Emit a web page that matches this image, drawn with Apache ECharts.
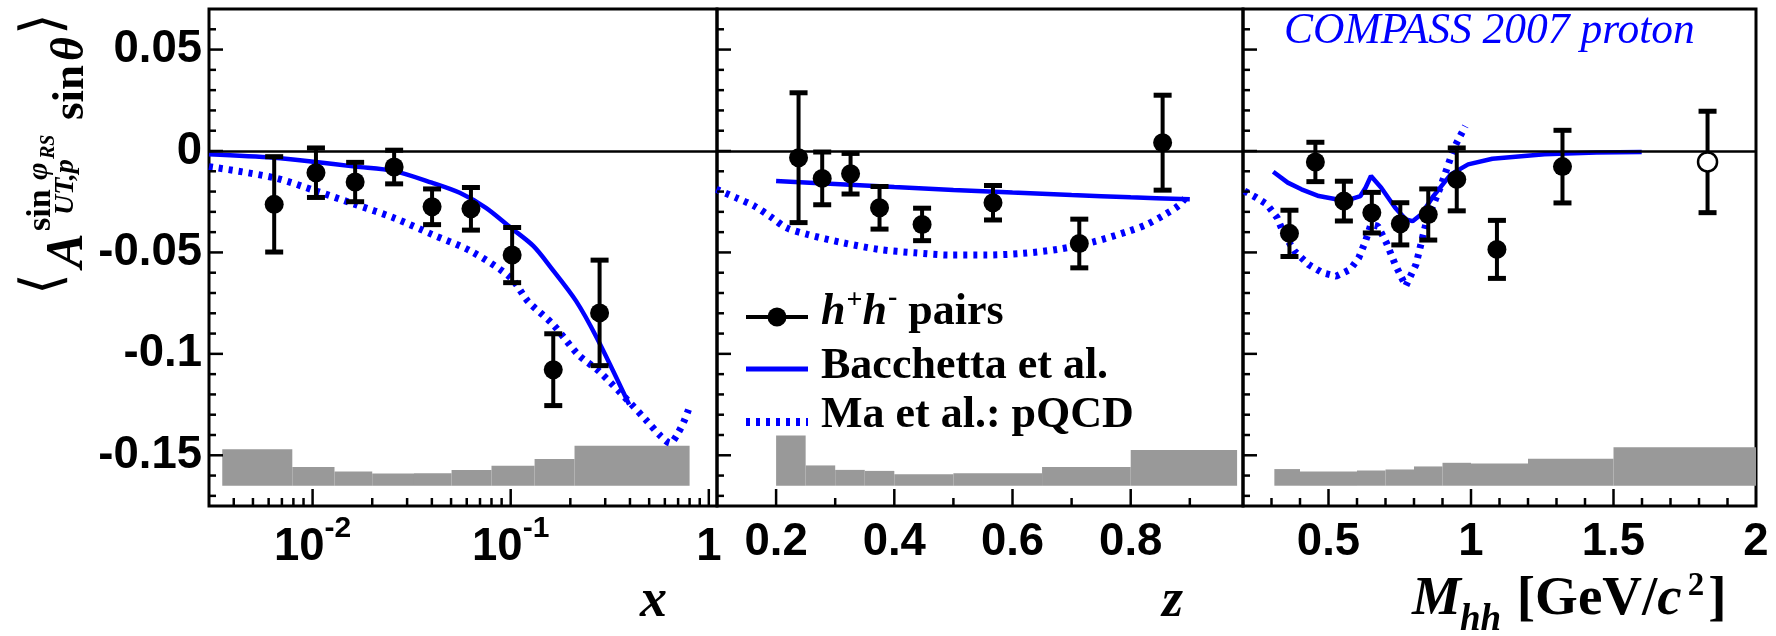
<!DOCTYPE html>
<html>
<head>
<meta charset="utf-8">
<script src="https://cdn.jsdelivr.net/npm/echarts@6/dist/echarts.min.js"></script>
<style>
html,body{margin:0;padding:0;background:#ffffff;}
#chart{width:1776px;height:636px;}
</style>
</head>
<body>
<div id="chart"></div>
<script>
// ---------------- data : panel 1 (x, log axis) ----------------
const xVals = [0.0064, 0.0104, 0.0164, 0.0258, 0.0401, 0.063, 0.1017, 0.164, 0.281];
const xAsym = [-0.0263, -0.0107, -0.0153, -0.0079, -0.0275, -0.0285, -0.0513, -0.1078, -0.0798];
const xErr  = [0.0235, 0.0122, 0.0097, 0.0083, 0.0088, 0.0105, 0.0136, 0.0177, 0.026];
const xBandEdges = [0.0035, 0.0079, 0.0129, 0.02, 0.0325, 0.0503, 0.08, 0.132, 0.21, 0.8];
const xBandTops  = [-0.147, -0.1558, -0.158, -0.159, -0.1588, -0.1572, -0.1552, -0.1518, -0.1453];
const xBacchettaX = [0.003, 0.0064, 0.0104, 0.0164, 0.0258, 0.04, 0.0553, 0.075, 0.1, 0.13, 0.16, 0.214, 0.272, 0.396];
const xBacchettaY = [-0.0016, -0.0033, -0.0054, -0.0077, -0.0099, -0.0156, -0.0206, -0.028, -0.0378, -0.0468, -0.0576, -0.074, -0.0921, -0.125];
const xMaX = [0.003, 0.0064, 0.0104, 0.0164, 0.0258, 0.04, 0.063, 0.1, 0.122, 0.164, 0.219, 0.279, 0.394, 0.489, 0.574, 0.638, 0.692, 0.749, 0.79];
const xMaY = [-0.0077, -0.0132, -0.0197, -0.0263, -0.033, -0.0411, -0.0494, -0.0625, -0.074, -0.0856, -0.1004, -0.1086, -0.1234, -0.1333, -0.1407, -0.144, -0.1398, -0.1333, -0.1275];

// ---------------- data : panel 2 (z) ----------------
const zVals = [0.238, 0.278, 0.326, 0.375, 0.447, 0.567, 0.713, 0.854];
const zAsym = [-0.0033, -0.0135, -0.0112, -0.028, -0.0362, -0.0255, -0.0456, 0.0041];
const zErr  = [0.032, 0.013, 0.010, 0.0105, 0.008, 0.0085, 0.012, 0.0234];
const zBandEdges = [0.2, 0.25, 0.3, 0.35, 0.4, 0.5, 0.65, 0.8, 0.98];
const zBandTops  = [-0.1403, -0.155, -0.1572, -0.1577, -0.1593, -0.1589, -0.1558, -0.1474];
const zBacchettaX = [0.2, 0.3, 0.4, 0.5, 0.6, 0.7, 0.8, 0.9];
const zBacchettaY = [-0.0148, -0.0163, -0.0178, -0.0192, -0.0205, -0.0217, -0.0228, -0.0238];
const zMaX = [0.099, 0.132, 0.163, 0.193, 0.217, 0.253, 0.314, 0.374, 0.435, 0.495, 0.555, 0.616, 0.676, 0.737, 0.797, 0.827, 0.858, 0.882, 0.897];
const zMaY = [-0.0189, -0.023, -0.0271, -0.0329, -0.0378, -0.0411, -0.0453, -0.0485, -0.0502, -0.0513, -0.0513, -0.0505, -0.0485, -0.0448, -0.0395, -0.0362, -0.0313, -0.0267, -0.0214];

// ---------------- data : panel 3 (M_hh) ----------------
const mVals = [0.363, 0.454, 0.554, 0.652, 0.752, 0.85, 0.95, 1.091, 1.321, 1.83];
const mAsym = [-0.0406, -0.0054, -0.0247, -0.0304, -0.0359, -0.0313, -0.014, -0.0485, -0.0077, -0.0054];
const mErr  = [0.0114, 0.0097, 0.0098, 0.010, 0.0104, 0.0126, 0.0155, 0.0143, 0.0179, 0.025];
const mOpen = [0, 0, 0, 0, 0, 0, 0, 0, 0, 1];
const mBandEdges = [0.31, 0.4, 0.6, 0.7, 0.8, 0.9, 1.0, 1.2, 1.5, 2.0];
const mBandTops  = [-0.1568, -0.158, -0.1575, -0.157, -0.1555, -0.1537, -0.154, -0.1517, -0.146];
const mBacchettaX = [0.306, 0.357, 0.405, 0.466, 0.527, 0.576, 0.612, 0.63, 0.649, 0.685, 0.734, 0.771, 0.795, 0.826, 0.868, 0.929, 0.99, 1.075, 1.258, 1.44, 1.599];
const mBacchettaY = [-0.0102, -0.0156, -0.0189, -0.0222, -0.0238, -0.0238, -0.0222, -0.0181, -0.0123, -0.0181, -0.028, -0.0337, -0.0346, -0.0312, -0.0222, -0.0115, -0.0066, -0.0038, -0.0016, -0.0008, -0.0005];
const mMaX = [0.205, 0.247, 0.284, 0.32, 0.344, 0.381, 0.43, 0.478, 0.527, 0.576, 0.606, 0.63, 0.649, 0.673, 0.703, 0.734, 0.771, 0.807, 0.844, 0.892, 0.941, 0.98];
const mMaY = [-0.0197, -0.023, -0.0263, -0.0329, -0.0411, -0.0494, -0.056, -0.06, -0.0617, -0.0584, -0.0527, -0.0444, -0.0362, -0.037, -0.0452, -0.0559, -0.0666, -0.0559, -0.0346, -0.0181, 0.0016, 0.0123];

const BAND_BASE = -0.165;

// ---------------- ticks ----------------
const xTickMajor = [0.01, 0.1, 1];
const xTickMinor = [0.004, 0.005, 0.006, 0.007, 0.008, 0.009, 0.02, 0.03, 0.04, 0.05, 0.06, 0.07, 0.08, 0.09, 0.2, 0.3, 0.4, 0.5, 0.6, 0.7, 0.8, 0.9];
const zTickMajor = [0.2, 0.4, 0.6, 0.8];
const zTickMinor = [0.3, 0.5, 0.7, 0.9];
const mTickMajor = [0.5, 1.0, 1.5];
const mTickMinor = [0.3, 0.4, 0.6, 0.7, 0.8, 0.9, 1.1, 1.2, 1.3, 1.4, 1.6, 1.7, 1.8, 1.9];
const yTickMajor = [-0.15, -0.1, -0.05, 0, 0.05];
const yTickMinor = [-0.17, -0.16, -0.14, -0.13, -0.12, -0.11, -0.09, -0.08, -0.07, -0.06, -0.04, -0.03, -0.02, -0.01, 0.01, 0.02, 0.03, 0.04, 0.06];
const yLabels = {'2': '0.05', '0': '0', '-2': '-0.05', '-4': '-0.1', '-6': '-0.15'};

// ---------------- helpers ----------------
const SERIF = 'Liberation Serif';
const SANS = 'Liberation Sans';
const BLUE = '#0000ff';
const mctx = document.createElement('canvas').getContext('2d');
function textWidth(t, size, weight, style, fam) {
  mctx.font = style + ' ' + weight + ' ' + size + 'px "' + fam + '"';
  return mctx.measureText(t).width;
}
function txt(t, x, base, o) {
  const size = o.size, fam = o.fam || SERIF;
  return {
    type: 'text', x: x, y: base - 0.34 * size, silent: true,
    style: {
      text: t, fontSize: size, fontFamily: fam, fontWeight: o.w || 'bold',
      fontStyle: o.st || 'normal', fill: o.color || '#000',
      align: 'left', verticalAlign: 'middle'
    }
  };
}
function runs(list, x0, base) {
  let x = x0; const out = [];
  list.forEach(function (r) {
    x += r.dx || 0;
    out.push(txt(r.t, x, base + (r.dy || 0), r));
    x += textWidth(r.t, r.size, r.w || 'bold', r.st || 'normal', r.fam || SERIF);
  });
  return out;
}
function zip(a, b) { return a.map(function (v, i) { return [v, b[i]]; }); }

function bandRender(params, api) {
  const p0 = api.coord([api.value(0), BAND_BASE]);
  const p1 = api.coord([api.value(1), api.value(2)]);
  return { type: 'rect', shape: { x: p0[0], y: p1[1], width: p1[0] - p0[0], height: p0[1] - p1[1] },
           style: { fill: '#999999' } };
}
function errRender(params, api) {
  const x = api.value(0), y = api.value(1), e = api.value(2);
  const t = api.coord([x, y + e]), b = api.coord([x, y - e]);
  const hw = 9;
  const s1 = { stroke: '#000', lineWidth: 4 };
  const s2 = { stroke: '#000', lineWidth: 5 };
  return { type: 'group', children: [
    { type: 'line', shape: { x1: t[0], y1: t[1], x2: b[0], y2: b[1] }, style: s1 },
    { type: 'line', shape: { x1: t[0] - hw, y1: t[1], x2: t[0] + hw, y2: t[1] }, style: s2 },
    { type: 'line', shape: { x1: b[0] - hw, y1: b[1], x2: b[0] + hw, y2: b[1] }, style: s2 }
  ]};
}
function xTickRender(params, api) {
  const cs = params.coordSys;
  const p = api.coord([api.value(0), 0]);
  const len = api.value(2) ? 17 : 8;
  const yb = cs.y + cs.height;
  return { type: 'line', shape: { x1: p[0], y1: yb, x2: p[0], y2: yb - len }, style: { stroke: '#000', lineWidth: 2.5 } };
}
function yTickRender(params, api) {
  const cs = params.coordSys;
  const p = api.coord([api.value(0), api.value(1)]);
  const len = api.value(2) ? 14 : 7;
  return { type: 'line', shape: { x1: cs.x, y1: p[1], x2: cs.x + len, y2: p[1] }, style: { stroke: '#000', lineWidth: 2.5 } };
}

function panelSeries(i, o) {
  const bands = o.tops.map(function (t, k) { return [o.edges[k], o.edges[k + 1], t]; });
  const errs = o.vals.map(function (v, k) { return [v, o.asym[k], o.err[k]]; });
  const pts = o.vals.map(function (v, k) {
    const item = { value: [v, o.asym[k]] };
    if (o.open && o.open[k]) item.itemStyle = { color: '#ffffff', borderColor: '#000', borderWidth: 2.5, opacity: 1 };
    return item;
  });
  const xt = o.tMaj.map(function (v) { return [v, 0, 1]; }).concat(o.tMin.map(function (v) { return [v, 0, 0]; }));
  const yt = yTickMajor.map(function (v) { return [o.xRef, v, 1]; }).concat(yTickMinor.map(function (v) { return [o.xRef, v, 0]; }));
  const common = { xAxisIndex: i, yAxisIndex: i, silent: true, animation: false };
  return [
    Object.assign({ type: 'custom', name: 'systematics', renderItem: bandRender, data: bands, encode: { x: [0, 1], y: 2 }, z: 1 }, common),
    Object.assign({ type: 'line', name: 'Bacchetta et al.', data: zip(o.bx, o.by), showSymbol: false, symbol: 'none', smooth: o.smooth,
      lineStyle: { color: BLUE, width: 4.5, opacity: 1 }, z: 3 }, common),
    Object.assign({ type: 'line', name: 'Ma et al.: pQCD', data: zip(o.mx, o.my), showSymbol: false, symbol: 'none', smooth: o.smooth,
      lineStyle: { color: BLUE, width: 7, type: [4, 6], opacity: 1 }, z: 3 }, common),
    Object.assign({ type: 'custom', name: 'errors', renderItem: errRender, data: errs, encode: { x: 0, y: 1 }, z: 4 }, common),
    Object.assign({ type: 'scatter', name: 'h+h- pairs', data: pts, symbol: 'circle', symbolSize: 19, itemStyle: { color: '#000', opacity: 1 }, z: 5,
      markLine: { silent: true, symbol: ['none', 'none'], label: { show: false }, animation: false,
        lineStyle: { color: '#000', width: 2.5, type: 'solid', opacity: 1 }, emphasis: { disabled: true }, data: [{ yAxis: 0 }] } }, common),
    Object.assign({ type: 'custom', name: 'xticks', renderItem: xTickRender, data: xt, encode: { x: 0, y: 1 }, z: 6 }, common),
    Object.assign({ type: 'custom', name: 'yticks', renderItem: yTickRender, data: yt, encode: { x: 0, y: 1 }, z: 6 }, common)
  ];
}

const LBL = 45.5;
const labelBase = { color: '#000', fontFamily: SANS, fontWeight: 'bold', fontSize: LBL };
function xAxisBase(i, extra) {
  return Object.assign({
    gridIndex: i, axisLine: { show: false }, axisTick: { show: false }, splitLine: { show: false },
    minorTick: { show: false }, minorSplitLine: { show: false }
  }, extra);
}

const series = []
  .concat(panelSeries(0, { vals: xVals, asym: xAsym, err: xErr, edges: xBandEdges, tops: xBandTops,
    bx: xBacchettaX, by: xBacchettaY, mx: xMaX, my: xMaY, tMaj: xTickMajor, tMin: xTickMinor, xRef: 0.01, smooth: 0.3 }))
  .concat(panelSeries(1, { vals: zVals, asym: zAsym, err: zErr, edges: zBandEdges, tops: zBandTops,
    bx: zBacchettaX, by: zBacchettaY, mx: zMaX, my: zMaY, tMaj: zTickMajor, tMin: zTickMinor, xRef: 0.5, smooth: 0.3 }))
  .concat(panelSeries(2, { vals: mVals, asym: mAsym, err: mErr, open: mOpen, edges: mBandEdges, tops: mBandTops,
    bx: mBacchettaX, by: mBacchettaY, mx: mMaX, my: mMaY, tMaj: mTickMajor, tMin: mTickMinor, xRef: 1.0, smooth: false }));

// ---------------- text graphics ----------------
const graphics = [];
// y-axis title, rotated (local x runs upward on screen, local y points right)
const yTitle = [
  txt('\u27E8', 2, -22, { size: 56, fam: 'DejaVu Sans', w: 'normal' }),
  txt('A', 29, 0, { size: 52, st: 'italic' }),
  txt('UT,p', 82, -11, { size: 28, st: 'italic' }),
  txt('sin', 66, -33, { size: 34 }),
  txt('\u03C6', 117, -37, { size: 30, st: 'italic' }),
  txt('RS', 138, -30, { size: 20, st: 'italic' }),
  txt('sin', 177, 1, { size: 45 }),
  txt('\u03B8', 236, 1, { size: 46, st: 'italic' }),
  txt('\u27E9', 262, -22, { size: 56, fam: 'DejaVu Sans', w: 'normal' })
];
graphics.push({ type: 'group', x: 86, y: 297, rotation: Math.PI / 2, silent: true, children: yTitle });
// axis titles
graphics.push.apply(graphics, runs([{ t: 'x', size: 54, st: 'italic' }], 640, 620));
graphics.push.apply(graphics, runs([{ t: 'z', size: 54, st: 'italic' }], 1162, 620));
graphics.push.apply(graphics, runs([
  { t: 'M', size: 55, st: 'italic' },
  { t: 'hh', size: 37, st: 'italic', dy: 15, dx: -1 },
  { t: ' [GeV/', size: 55, dx: 2 },
  { t: 'c', size: 55, st: 'italic' },
  { t: '2', size: 33, dy: -20, dx: 6 },
  { t: ']', size: 55, dx: 4 }
], 1412, 618));
// experiment label
graphics.push.apply(graphics, runs([{ t: 'COMPASS 2007 proton', size: 43.5, st: 'italic', w: 'normal', color: BLUE }], 1284, 46));
// legend
graphics.push({ type: 'line', silent: true, shape: { x1: 746, y1: 317, x2: 808, y2: 317 }, style: { stroke: '#000', lineWidth: 4 } });
graphics.push({ type: 'circle', silent: true, shape: { cx: 777, cy: 317, r: 9.5 }, style: { fill: '#000' } });
graphics.push.apply(graphics, runs([
  { t: 'h', size: 44, st: 'italic' },
  { t: '+', size: 28, dy: -18, dx: 1 },
  { t: 'h', size: 44, st: 'italic' },
  { t: '-', size: 28, dy: -21, dx: 1 },
  { t: ' pairs', size: 44 }
], 821, 328));
graphics.push({ type: 'line', silent: true, shape: { x1: 746, y1: 369, x2: 808, y2: 369 }, style: { stroke: BLUE, lineWidth: 5 } });
graphics.push.apply(graphics, runs([{ t: 'Bacchetta et al.', size: 44 }], 821, 382));
graphics.push({ type: 'line', silent: true, shape: { x1: 746, y1: 422, x2: 808, y2: 422 }, style: { stroke: BLUE, lineWidth: 8, lineDash: [4, 6] } });
graphics.push.apply(graphics, runs([{ t: 'Ma et al.: pQCD', size: 44 }], 821, 431));

const gridBase = { top: 9, bottom: 130, show: true, borderColor: '#000', borderWidth: 3, backgroundColor: 'transparent', containLabel: false, outerBoundsMode: 'none' };

const option = {
  animation: false,
  backgroundColor: '#ffffff',
  textStyle: { fontFamily: SANS },
  grid: [
    Object.assign({ left: 209, right: 1776 - 717 }, gridBase),
    Object.assign({ left: 717, right: 1776 - 1243 }, gridBase),
    Object.assign({ left: 1243, right: 20 }, gridBase)
  ],
  xAxis: [
    xAxisBase(0, { type: 'log', logBase: 10, min: 0.003, max: 1.1,
      axisLabel: { margin: 8, showMinLabel: false, showMaxLabel: false,
        formatter: function (v) {
          const l = Math.log10(v), e = Math.round(l);
          if (Math.abs(l - e) > 1e-6) return '';
          if (e === 0) return '{b|1}';
          return '{b|10}{s|' + e + '}';
        },
        rich: {
          b: { fontFamily: SANS, fontWeight: 'bold', fontSize: LBL, lineHeight: 56, verticalAlign: 'bottom', color: '#000' },
          s: { fontFamily: SANS, fontWeight: 'bold', fontSize: 30, lineHeight: 30, verticalAlign: 'top', color: '#000' }
        } } }),
    xAxisBase(1, { type: 'value', min: 0.1, max: 0.99, interval: 0.1,
      axisLabel: Object.assign({ margin: 8, lineHeight: 56, showMaxLabel: false,
        formatter: function (v) {
          const r = Math.round(v * 10);
          if (r % 2 !== 0 || r < 2 || r > 8) return '';
          return (r / 10).toFixed(1);
        } }, labelBase) }),
    xAxisBase(2, { type: 'value', min: 0.2, max: 2.0, interval: 0.1,
      axisLabel: Object.assign({ margin: 8, lineHeight: 56,
        formatter: function (v) {
          const r = Math.round(v * 10);
          if (r % 5 !== 0) return '';
          return String(r / 10);
        } }, labelBase) })
  ],
  yAxis: [0, 1, 2].map(function (i) {
    return {
      type: 'value', gridIndex: i, min: -0.175, max: 0.07, interval: 0.025,
      axisLine: { show: false }, axisTick: { show: false }, splitLine: { show: false },
      axisLabel: i === 0 ? Object.assign({ margin: 7, showMaxLabel: false, showMinLabel: false,
        formatter: function (v) {
          const r = String(Math.round(v / 0.025));
          return yLabels[r] !== undefined ? yLabels[r] : '';
        } }, labelBase) : { show: false }
    };
  }),
  series: series,
  graphic: { elements: graphics }
};

const chart = echarts.init(document.getElementById('chart'), null, { renderer: 'canvas', width: 1776, height: 636 });
chart.setOption(option);
</script>
</body>
</html>
